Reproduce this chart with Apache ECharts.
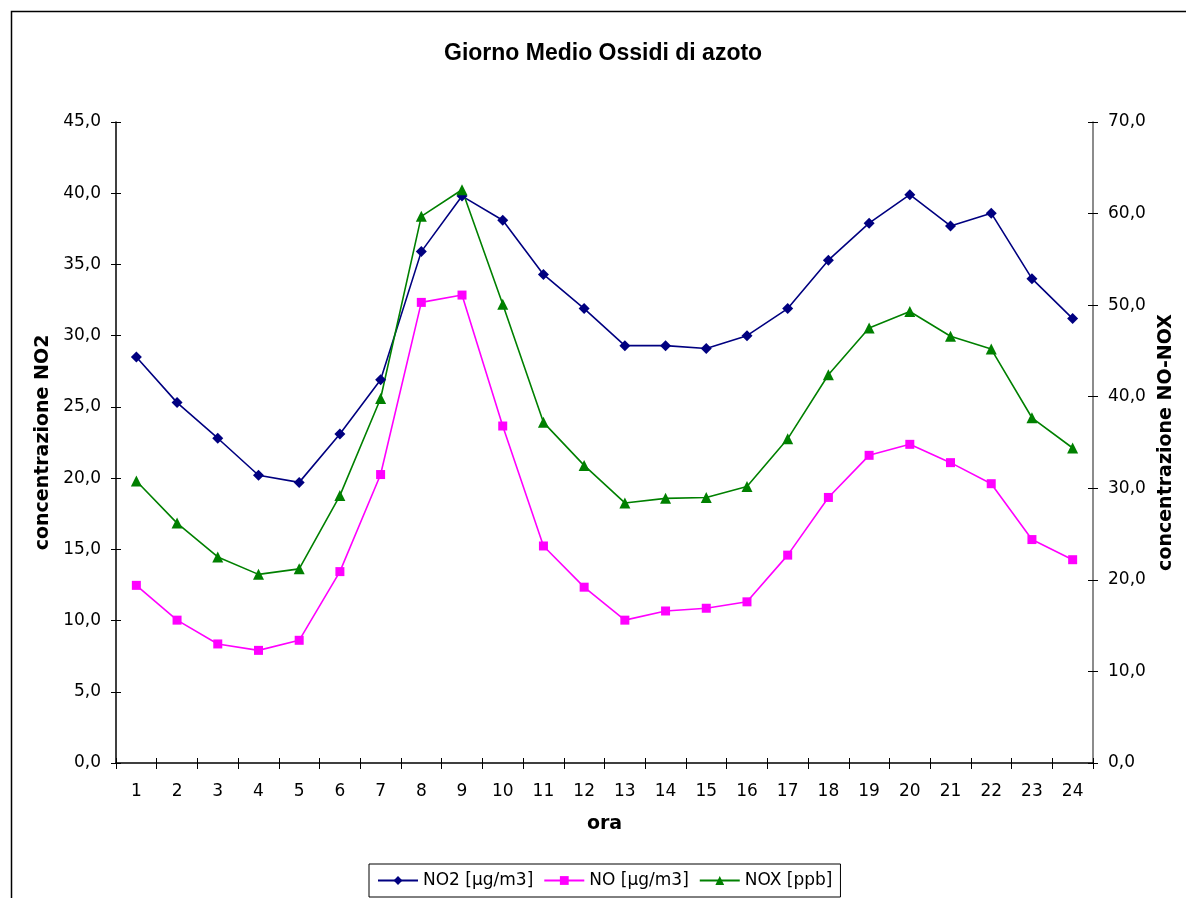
<!DOCTYPE html>
<html><head><meta charset="utf-8">
<script src="https://cdn.jsdelivr.net/npm/echarts@6/dist/echarts.min.js"></script>
<style>html,body{margin:0;padding:0;background:#fff}#c{width:1186px;height:898px}</style>
</head><body><div id="c"></div>
<script>
const hours = ['1','2','3','4','5','6','7','8','9','10','11','12','13','14','15','16','17','18','19','20','21','22','23','24'];
const no2 = [28.5,25.3,22.8,20.2,19.7,23.1,26.9,35.9,39.8,38.1,34.3,31.9,29.3,29.3,29.1,30.0,31.9,35.3,37.9,39.9,37.7,38.6,34.0,31.2];
const no  = [19.4,15.6,13.0,12.3,13.4,20.9,31.5,50.3,51.1,36.8,23.7,19.2,15.6,16.6,16.9,17.6,22.7,29.0,33.6,34.8,32.8,30.5,24.4,22.2];
const nox = [30.8,26.2,22.5,20.6,21.2,29.2,39.8,59.7,62.6,50.1,37.2,32.5,28.4,28.9,29.0,30.2,35.4,42.4,47.5,49.3,46.6,45.2,37.7,34.4];
const seriesNames = ['NO2 [µg/m3]','NO [µg/m3]','NOX [ppb]'];
const titleText = 'Giorno Medio Ossidi di azoto';
const xName = 'ora';
const yLeftName = 'concentrazione NO2';
const yRightName = 'concentrazione NO-NOX';

const tfont = 'Liberation Sans, Arial, sans-serif';
const font = 'DejaVu Sans, sans-serif';
const fmt = v => v.toFixed(1).replace('.', ',');
const nameStyle = {fontFamily:font, fontSize:19, fontWeight:'bold', color:'#000'};
const labStyle = {fontFamily:font, fontSize:17, color:'#000'};

function tickAxis(extra){ // duplicate axis only used to draw the inner half of crossing ticks
  return Object.assign({axisLine:{show:false}, axisLabel:{show:false}, splitLine:{show:false},
    axisTick:{show:true, inside:true, length:5, lineStyle:{color:'#000'}}}, extra);
}

const chart = echarts.init(document.getElementById('c'), null, {renderer:'canvas'});
chart.setOption({
  backgroundColor:'#fff',
  animation:false,
  graphic:[{type:'rect', shape:{x:11.5,y:11.5,width:1200,height:900}, style:{fill:'none', stroke:'#000', lineWidth:1.5}, z:-1}],
  title:{text:titleText, left:439, top:37, textStyle:{fontFamily:tfont, fontSize:23, fontWeight:'bold', color:'#000'}},
  legend:{
    bottom:1, left:369,
    data:seriesNames,
    borderColor:'#000', borderWidth:1, padding:[8,8,8,8],
    itemWidth:40, itemHeight:11, itemGap:10,
    textStyle:labStyle
  },
  grid:{left:116, right:93, top:122, bottom:135},
  xAxis:[{
    type:'category', data:hours, boundaryGap:true,
    name:xName, nameLocation:'middle', nameGap:52, nameTextStyle:nameStyle,
    axisLine:{lineStyle:{color:'#000', width:1.5}},
    axisTick:{show:true, length:6, lineStyle:{color:'#000'}},
    axisLabel:Object.assign({margin:20}, labStyle)
  }, tickAxis({type:'category', data:hours, boundaryGap:true, position:'bottom'})],
  yAxis:[
    {type:'value', min:0, max:45, interval:5, position:'left',
     name:yLeftName, nameLocation:'middle', nameGap:62, nameRotate:90, nameTextStyle:nameStyle,
     axisLine:{show:true, lineStyle:{color:'#000', width:1.5}},
     axisTick:{show:true, length:5, lineStyle:{color:'#000'}},
     splitLine:{show:false},
     axisLabel:Object.assign({formatter:fmt, margin:15}, labStyle)},
    {type:'value', min:0, max:70, interval:10, position:'right',
     name:yRightName, nameLocation:'middle', nameGap:64, nameRotate:90, nameTextStyle:nameStyle,
     axisLine:{show:true, lineStyle:{color:'#666', width:1.5}},
     axisTick:{show:true, length:5, lineStyle:{color:'#000'}},
     splitLine:{show:false},
     axisLabel:Object.assign({formatter:fmt, margin:15}, labStyle)},
    tickAxis({type:'value', min:0, max:45, interval:5, position:'left'}),
    tickAxis({type:'value', min:0, max:70, interval:10, position:'right'})
  ],
  series:[
    {name:seriesNames[0], type:'line', yAxisIndex:0, data:no2, symbol:'diamond', symbolSize:11,
     lineStyle:{color:'#000080', width:1.6}, itemStyle:{color:'#000080'}},
    {name:seriesNames[1], type:'line', yAxisIndex:1, data:no, symbol:'rect', symbolSize:9,
     lineStyle:{color:'#ff00ff', width:1.6}, itemStyle:{color:'#ff00ff'}},
    {name:seriesNames[2], type:'line', yAxisIndex:1, data:nox, symbol:'triangle', symbolSize:11,
     lineStyle:{color:'#008000', width:1.6}, itemStyle:{color:'#008000'}}
  ]
});
</script></body></html>
